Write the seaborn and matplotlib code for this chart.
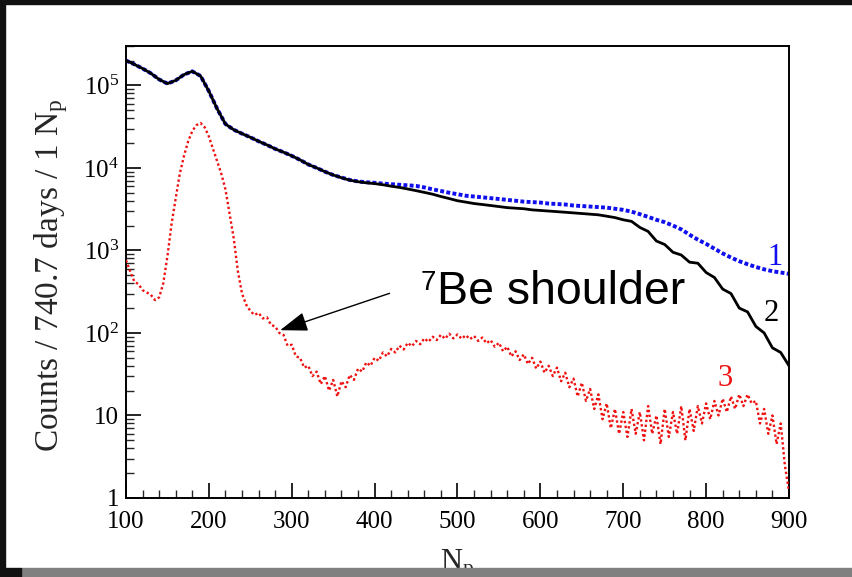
import numpy as np
import pandas as pd
import matplotlib
matplotlib.use("Agg")
import matplotlib.pyplot as plt
import matplotlib.ticker as mticker
from matplotlib.patches import Rectangle
import seaborn as sns

# ---------------- data ----------------
np_coarse = list(range(100, 910, 10))          # N_p, step 10
np_fine = list(range(100, 905, 5))             # N_p, step 5

series2_black = [
    200000, 180000, 160000, 140000, 118000, 105000, 115000, 135000, 148000, 130000,
    85000, 52000, 34000, 29000, 26000, 23500, 21000, 19000, 17000, 15500,
    14000, 12500, 11000, 10000, 9000, 8200, 7600, 7100, 6800, 6600,
    6450, 6250, 6000, 5800, 5550, 5300, 5050, 4800, 4500, 4250,
    4000, 3850, 3700, 3600, 3500, 3400, 3300, 3250, 3200, 3100,
    3050, 3000, 2950, 2900, 2850, 2800, 2750, 2700, 2600, 2500,
    2350, 2250, 1900, 1700, 1300, 1180, 950, 880, 720, 700,
    540, 470, 340, 300, 200, 180, 120, 100, 66, 58,
    40,
]

series1_blue = [
    200000, 180000, 160000, 140000, 118000, 105000, 115000, 135000, 148000, 130000,
    85000, 52000, 34000, 29000, 26000, 23500, 21000, 19000, 17000, 15500,
    14000, 12500, 11000, 10000, 9000, 8200, 7650, 7150, 6850, 6700,
    6600, 6450, 6350, 6250, 6150, 6050, 5800, 5500, 5250, 5000,
    4800, 4600, 4500, 4400, 4300, 4200, 4100, 4000, 3900, 3850,
    3800, 3700, 3650, 3600, 3500, 3450, 3400, 3350, 3300, 3200,
    3100, 2950, 2750, 2550, 2350, 2200, 2000, 1800, 1550, 1350,
    1200, 1050, 920, 820, 740, 680, 630, 590, 560, 540,
    520,
]

series3_red = [
    760, 560, 420, 390, 330, 310, 290, 250, 270, 400,
    850, 2100, 4300, 8600, 14000, 21000, 28000, 33000, 35000, 31000,
    24000, 17000, 12000, 8500, 5500, 2800, 1400, 560, 300, 220,
    185, 165, 175, 150, 155, 125, 120, 100, 95, 70,
    72, 52, 50, 38, 40, 30, 34, 24, 30, 20,
    27, 17, 26, 22, 31, 27, 37, 34, 44, 40,
    50, 46, 58, 52, 64, 58, 70, 63, 76, 69,
    80, 73, 86, 78, 90, 82, 95, 85, 98, 86,
    96, 85, 94, 84, 92, 80, 88, 75, 82, 68,
    76, 60, 68, 52, 60, 47, 55, 42, 50, 37,
    45, 33, 40, 30, 38, 26, 33, 22, 28, 17,
    25, 15, 21, 12, 18, 9, 14, 7, 12, 6,
    11, 5.5, 12, 6, 11, 5, 13, 6, 10, 4.5,
    12, 5.5, 11, 6, 13, 5, 12, 6.5, 13, 8,
    14, 9, 15, 10, 16, 11, 17, 12, 18, 13,
    18, 14, 15, 8, 12, 6, 10, 4.5, 8, 2.5,
    1.2,
]

x_ticks = [100, 200, 300, 400, 500, 600, 700, 800, 900]
y_ticks = [1, 10, 100, 1000, 10000, 100000]
y_tick_labels = ["1", "10", r"$10^2$", r"$10^3$", r"$10^4$", r"$10^5$"]
x_label = r"N$_\mathrm{p}$"
y_label = r"Counts / 740.7 days / 1 N$_\mathrm{p}$"
curve_labels = ["1", "2", "3"]
annot_text = "Be shoulder"
annot_sup = "7"

# ---------------- style ----------------
sns.set_style("white")
plt.rcParams["font.family"] = ["Liberation Serif", "DejaVu Serif"]
plt.rcParams["mathtext.fontset"] = "custom"
plt.rcParams["mathtext.rm"] = "Liberation Serif"
plt.rcParams["mathtext.it"] = "Liberation Serif:italic"

fig = plt.figure(figsize=(8.53, 5.77), dpi=100)
fig.patch.set_facecolor("white")
ax = fig.add_axes([126 / 853, 79 / 577, 663 / 853, 452 / 577])

df_blue = pd.DataFrame({"Np": np_coarse, "counts": series1_blue})
df_black = pd.DataFrame({"Np": np_coarse, "counts": series2_black})
df_red = pd.DataFrame({"Np": np_fine, "counts": series3_red})

sns.lineplot(data=df_blue, x="Np", y="counts", ax=ax, color="#1010ee",
             linewidth=2.8, linestyle=(0, (1, 0.6)), errorbar=None, zorder=2)
sns.lineplot(data=df_black, x="Np", y="counts", ax=ax, color="black",
             linewidth=2.0, errorbar=None, zorder=3)
sns.lineplot(data=df_red, x="Np", y="counts", ax=ax, color="#ee1111",
             linewidth=1.7, linestyle=(0, (1, 1.1)), errorbar=None, zorder=4)

ax.set_yscale("log")
ax.set_xlim(100, 900)
ax.set_ylim(1, 3.0e5)

ax.set_xticks(x_ticks)
ax.set_xticklabels([str(v) for v in x_ticks])
ax.xaxis.set_minor_locator(mticker.MultipleLocator(20))
ax.set_yticks(y_ticks)
ax.set_yticklabels(y_tick_labels)
ax.yaxis.set_minor_locator(mticker.LogLocator(base=10, subs=np.arange(2, 10), numticks=20))
ax.yaxis.set_minor_formatter(mticker.NullFormatter())

ax.tick_params(axis="both", which="major", direction="in", length=11, width=1.2,
               labelsize=18, colors="black", top=False, right=False,
               bottom=True, left=True)
ax.tick_params(axis="x", which="major", pad=9)
ax.tick_params(axis="y", which="major", pad=5)
ax.tick_params(axis="both", which="minor", direction="in", length=6, width=1.0,
               top=False, right=False, bottom=True, left=True)
for s in ax.spines.values():
    s.set_color("black")
    s.set_linewidth(1.4)

ax.set_xlabel(x_label, fontsize=22, labelpad=11)
ax.set_ylabel(y_label, fontsize=24)
ax.yaxis.set_label_coords(-0.085, 0.493)

# curve labels
ax.text(883, 810, curve_labels[0], color="#1010ee", fontsize=22, ha="center", va="center")
ax.text(878, 170, curve_labels[1], color="black", fontsize=22, ha="center", va="center")
ax.text(823, 28, curve_labels[2], color="#ee1111", fontsize=22, ha="center", va="center")

# annotation
ax.annotate("", xy=(286, 108), xytext=(418, 302),
            arrowprops=dict(arrowstyle="-|>,head_length=1.7,head_width=0.6",
                            color="black", lw=1.0, shrinkA=0, shrinkB=0))
ax.text(475, 224, annot_text, fontsize=33.5, family="Liberation Sans",
        ha="left", va="baseline", color="black")
ax.text(455, 335, annot_sup, fontsize=20, family="Liberation Sans",
        ha="left", va="baseline", color="black")

# screenshot border
fig.patches.append(Rectangle((0, 1 - 4 / 577), 1, 4 / 577, transform=fig.transFigure,
                             color="#111111", zorder=10))
fig.patches.append(Rectangle((0, 0), 5 / 853, 1, transform=fig.transFigure,
                             color="#111111", zorder=10))
fig.patches.append(Rectangle((21 / 853, 0), 1, 9 / 577, transform=fig.transFigure,
                             color="#808080", zorder=10))
fig.patches.append(Rectangle((0, 0), 21 / 853, 9 / 577, transform=fig.transFigure,
                             color="#111111", zorder=10))

fig.savefig("out.png", dpi=100)
